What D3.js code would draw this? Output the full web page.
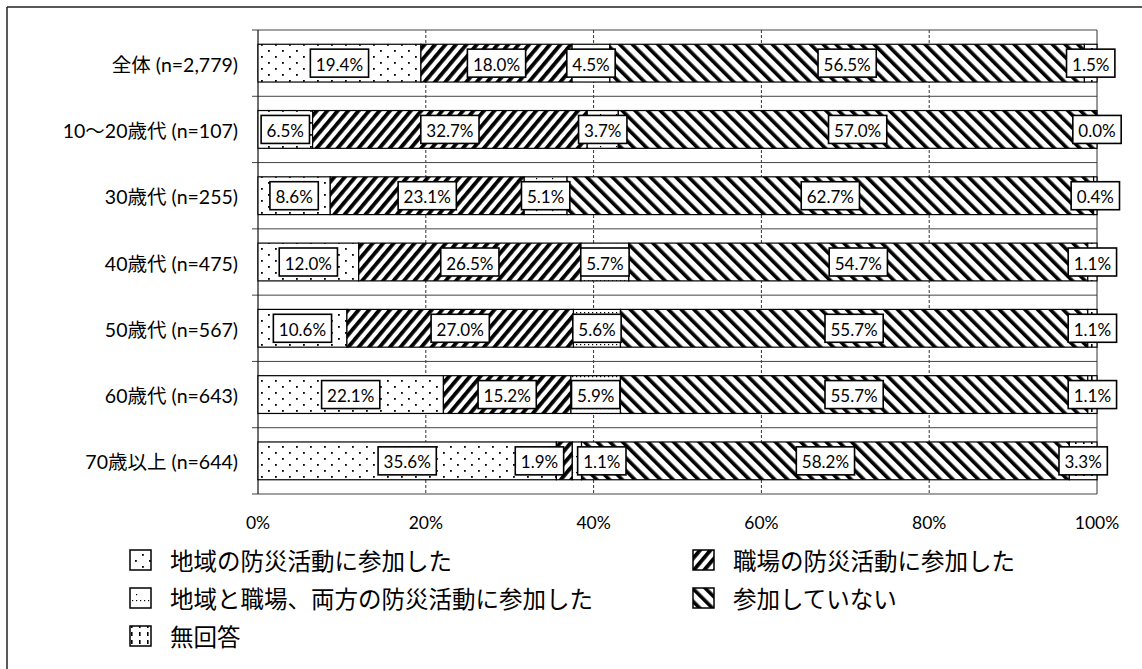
<!DOCTYPE html>
<html><head><meta charset="utf-8">
<script src="https://cdn.jsdelivr.net/npm/d3@7"></script>
<style>
html,body{margin:0;padding:0;background:#fff;}
svg{display:block;}
text{font-family:Lato,"Noto Sans CJK JP",sans-serif;fill:#000;}
</style></head>
<body>
<svg id="chart" width="1142" height="669"></svg>
<script>
const categories = ["全体 (n=2,779)","10～20歳代 (n=107)","30歳代 (n=255)","40歳代 (n=475)","50歳代 (n=567)","60歳代 (n=643)","70歳以上 (n=644)"];
const seriesNames = ["地域の防災活動に参加した","職場の防災活動に参加した","地域と職場、両方の防災活動に参加した","参加していない","無回答"];
const localOnly = [19.4, 6.5, 8.6, 12.0, 10.6, 22.1, 35.6];
const workOnly  = [18.0, 32.7, 23.1, 26.5, 27.0, 15.2, 1.9];
const bothAct   = [4.5, 3.7, 5.1, 5.7, 5.6, 5.9, 1.1];
const noneAct   = [56.5, 57.0, 62.7, 54.7, 55.7, 55.7, 58.2];
const noAnswer  = [1.5, 0.0, 0.4, 1.1, 1.1, 1.1, 3.3];
const xTicks = [0, 20, 40, 60, 80, 100];

const series = [localOnly, workOnly, bothAct, noneAct, noAnswer];
const patIds = ["pLocal","pWork","pBoth","pNone","pNA"];

const svg = d3.select("#chart");
const defs = svg.append("defs");

// patterns
{
  let p = defs.append("pattern").attr("id","pLocal").attr("patternUnits","userSpaceOnUse").attr("width",14).attr("height",12);
  p.append("rect").attr("width",14).attr("height",12).attr("fill","#fff");
  p.append("rect").attr("x",2).attr("y",2).attr("width",1.8).attr("height",1.8).attr("fill","#000");
  p.append("rect").attr("x",9).attr("y",8).attr("width",1.8).attr("height",1.8).attr("fill","#000");

  p = defs.append("pattern").attr("id","pBoth").attr("patternUnits","userSpaceOnUse").attr("width",16).attr("height",16);
  p.append("rect").attr("width",16).attr("height",16).attr("fill","#fff");
  for (let i = 0; i < 16; i += 4) {
    p.append("rect").attr("x",i).attr("y",8).attr("width",1.2).attr("height",1.2).attr("fill","#000");
  }
  p.append("rect").attr("x",8).attr("y",2).attr("width",1.2).attr("height",1.2).attr("fill","#000");

  p = defs.append("pattern").attr("id","pNA").attr("patternUnits","userSpaceOnUse").attr("width",8).attr("height",8);
  p.append("rect").attr("width",8).attr("height",8).attr("fill","#fff");
  p.append("rect").attr("x",3).attr("y",0).attr("width",1.6).attr("height",4).attr("fill","#000");

  p = defs.append("pattern").attr("id","pWork").attr("patternUnits","userSpaceOnUse").attr("width",8).attr("height",8).attr("patternTransform","rotate(40)");
  p.append("rect").attr("width",8).attr("height",8).attr("fill","#fff");
  p.append("rect").attr("x",0).attr("y",0).attr("width",3.8).attr("height",8).attr("fill","#000");

  p = defs.append("pattern").attr("id","pNone").attr("patternUnits","userSpaceOnUse").attr("width",9).attr("height",9).attr("patternTransform","rotate(-45)");
  p.append("rect").attr("width",9).attr("height",9).attr("fill","#fff");
  p.append("rect").attr("x",0).attr("y",0).attr("width",3.6).attr("height",9).attr("fill","#000");
}

// outer frame (scan border)
svg.append("line").attr("x1",7).attr("x2",1142).attr("y1",7).attr("y2",7).attr("stroke","#222").attr("stroke-width",1.5);
svg.append("line").attr("x1",7).attr("x2",7).attr("y1",7).attr("y2",669).attr("stroke","#222").attr("stroke-width",1.5);

const x = d3.scaleLinear().domain([0,100]).range([258,1097]);
const y = d3.scaleBand().domain(categories).range([30,494]).paddingInner(0.43).paddingOuter(0.215);
const step = y.step();

// gridlines vertical
const g = svg.append("g");
g.selectAll("line.vg").data(xTicks.filter(t => t > 0 && t < 100)).join("line")
  .attr("x1", d => x(d)).attr("x2", d => x(d)).attr("y1",30).attr("y2",494)
  .attr("stroke","#333").attr("stroke-width",1).attr("stroke-dasharray","3,2");
// horizontal category boundaries
const bounds = d3.range(categories.length + 1).map(i => 30 + i * step);
g.selectAll("line.hg").data(bounds).join("line")
  .attr("x1", 252).attr("x2", x(100)).attr("y1", d => d).attr("y2", d => d)
  .attr("stroke","#444").attr("stroke-width",1);
// frame
g.append("line").attr("x1",x(0)).attr("x2",x(0)).attr("y1",30).attr("y2",494).attr("stroke","#222").attr("stroke-width",1.3);
g.append("line").attr("x1",x(100)).attr("x2",x(100)).attr("y1",30).attr("y2",494).attr("stroke","#333").attr("stroke-width",1);

// bars
const rows = categories.map((c, i) => {
  const vals = series.map(s => s[i]);
  const total = d3.sum(vals);
  let acc = 0;
  return vals.map((v, k) => {
    const s0 = acc / total * 100; acc += v; const s1 = acc / total * 100;
    return {cat: c, k, v, s0, s1};
  });
});

const barG = svg.append("g");
rows.forEach(r => {
  barG.selectAll(null).data(r).join("rect")
    .attr("x", d => x(d.s0)).attr("width", d => Math.max(0, x(d.s1) - x(d.s0)))
    .attr("y", d => y(d.cat)).attr("height", y.bandwidth())
    .attr("fill", d => `url(#${patIds[d.k]})`).attr("stroke","#000").attr("stroke-width",1.2);
});

// labels with simple collision avoidance
const labG = svg.append("g");
rows.forEach(r => {
  const items = r.map(d => {
    const t = labG.append("text").attr("font-size",17).attr("text-anchor","middle").attr("dominant-baseline","central").text(d.v.toFixed(1) + "%");
    const w = t.node().getComputedTextLength() + 11;
    return {d, t, w, cx: x((d.s0 + d.s1) / 2)};
  });
  for (let it = 0; it < 50; it++) {
    for (let a = 0; a < items.length - 1; a++) {
      const A = items[a], B = items[a+1];
      const need = (A.w + B.w) / 2 + 14;
      const dist = B.cx - A.cx;
      if (dist < need) { const push = (need - dist) / 2; A.cx -= push; B.cx += push; }
    }
  }
  items.forEach(o => {
    const cy = y(o.d.cat) + y.bandwidth() / 2;
    labG.insert("rect", () => o.t.node())
      .attr("x", o.cx - o.w / 2).attr("y", cy - 14).attr("width", o.w).attr("height", 28)
      .attr("fill","#fff").attr("stroke","#000").attr("stroke-width",1.6);
    o.t.attr("x", o.cx).attr("y", cy + 1);
  });
});

// category labels
svg.append("g").selectAll("text").data(categories).join("text")
  .attr("x", 238).attr("y", d => y(d) + y.bandwidth() / 2 + 1)
  .attr("text-anchor","end").attr("dominant-baseline","central").attr("font-size",19.5).text(d => d);

// x tick labels
svg.append("g").selectAll("text").data(xTicks).join("text")
  .attr("x", d => x(d)).attr("y", 522).attr("text-anchor","middle").attr("dominant-baseline","central")
  .attr("font-size",17.5).text(d => d + "%");

// legend
const legendPos = [
  {k:0, lx:130, ly:560},
  {k:1, lx:693, ly:560},
  {k:2, lx:130, ly:598},
  {k:3, lx:693, ly:598},
  {k:4, lx:130, ly:636}
];
const lg = svg.append("g");
legendPos.forEach(p => {
  lg.append("rect").attr("x", p.lx).attr("y", p.ly - 10).attr("width", 21).attr("height", 20)
    .attr("fill", `url(#${patIds[p.k]})`).attr("stroke","#000").attr("stroke-width",1.5);
  lg.append("text").attr("x", p.lx + 40).attr("y", p.ly + 1).attr("dominant-baseline","central")
    .attr("font-size",23.5).text(seriesNames[p.k]);
});
</script>
</body></html>
